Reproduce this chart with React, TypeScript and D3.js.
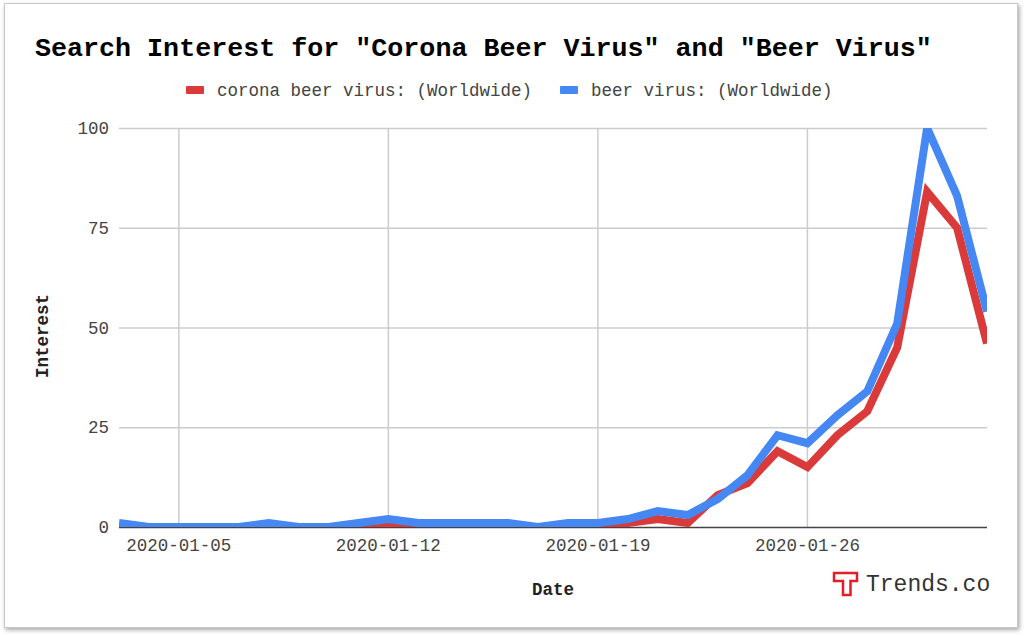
import { useEffect, useRef } from 'react'
import * as d3 from 'd3'

// daily points, 2020-01-03 .. 2020-02-01
const dates = [
  '2020-01-03', '2020-01-04', '2020-01-05', '2020-01-06', '2020-01-07', '2020-01-08',
  '2020-01-09', '2020-01-10', '2020-01-11', '2020-01-12', '2020-01-13', '2020-01-14',
  '2020-01-15', '2020-01-16', '2020-01-17', '2020-01-18', '2020-01-19', '2020-01-20',
  '2020-01-21', '2020-01-22', '2020-01-23', '2020-01-24', '2020-01-25', '2020-01-26',
  '2020-01-27', '2020-01-28', '2020-01-29', '2020-01-30', '2020-01-31', '2020-02-01',
]
const coronaBeerVirus = [
  0, 0, 0, 0, 0, 0, 0, 0, 0, 0, 0, 0, 0, 0, 0, 0, 0, 1, 2, 1, 8, 11, 19, 15, 23, 29, 45, 84, 75, 46,
]
const beerVirus = [
  1, 0, 0, 0, 0, 1, 0, 0, 1, 2, 1, 1, 1, 1, 0, 1, 1, 2, 4, 3, 7, 13, 23, 21, 28, 34, 51, 100, 83, 54,
]
const xTicks = ['2020-01-05', '2020-01-12', '2020-01-19', '2020-01-26']
const yTicks = [0, 25, 50, 75, 100]

const seriesNames = ['corona beer virus: (Worldwide)', 'beer virus: (Worldwide)']
const seriesColors = ['#db3a3a', '#4587f3']

const W = 1024
const H = 636
const plot = { left: 119, right: 987, top: 128, bottom: 527 }
const mono = '"Liberation Mono", "Courier New", monospace'

export default function App() {
  const svgRef = useRef<SVGSVGElement>(null)

  useEffect(() => {
    if (!svgRef.current) return
    const svg = d3.select(svgRef.current)
    svg.selectAll('*').remove()

    const parse = d3.utcParse('%Y-%m-%d')
    const xs = dates.map(d => parse(d) as Date)

    const x = d3
      .scaleUtc()
      .domain([xs[0], xs[xs.length - 1]])
      .range([plot.left, plot.right])
    const y = d3.scaleLinear().domain([0, 100]).range([plot.bottom, plot.top])

    const defs = svg.append('defs')
    const shadow = defs.append('filter').attr('id', 'card-shadow').attr('x', '-5%').attr('y', '-5%').attr('width', '110%').attr('height', '110%')
    shadow.append('feDropShadow').attr('dx', 1.5).attr('dy', 2).attr('stdDeviation', 2).attr('flood-color', '#000').attr('flood-opacity', 0.35)
    defs
      .append('clipPath')
      .attr('id', 'plot-clip')
      .append('rect')
      .attr('x', plot.left)
      .attr('y', plot.top)
      .attr('width', plot.right - plot.left)
      .attr('height', plot.bottom - plot.top)

    // card
    svg.append('rect')
      .attr('x', 4.5).attr('y', 3.5)
      .attr('width', 1013).attr('height', 624)
      .attr('fill', '#fff')
      .attr('stroke', '#c8c8c8')
      .attr('filter', 'url(#card-shadow)')

    // title
    svg.append('text')
      .attr('x', 35).attr('y', 56)
      .attr('font-family', mono).attr('font-weight', 'bold').attr('font-size', 26.7)
      .attr('fill', '#000')
      .text('Search Interest for "Corona Beer Virus" and "Beer Virus"')

    // legend
    const legendX = [186, 560]
    seriesNames.forEach((name, i) => {
      svg.append('rect')
        .attr('x', legendX[i]).attr('y', 86)
        .attr('width', 18).attr('height', 8).attr('rx', 1)
        .attr('fill', seriesColors[i])
      svg.append('text')
        .attr('x', legendX[i] + 31).attr('y', 96)
        .attr('font-family', mono).attr('font-size', 17.5)
        .attr('fill', '#444')
        .text(name)
    })

    // grid
    const grid = svg.append('g')
    grid.selectAll('line.h')
      .data(yTicks.filter(t => t > 0))
      .join('line')
      .attr('x1', plot.left).attr('x2', plot.right)
      .attr('y1', d => y(d) + 0.5).attr('y2', d => y(d) + 0.5)
      .attr('stroke', '#cccccc').attr('stroke-width', 1.5)
    grid.selectAll('line.v')
      .data(xTicks)
      .join('line')
      .attr('x1', d => x(parse(d) as Date)).attr('x2', d => x(parse(d) as Date))
      .attr('y1', plot.top).attr('y2', plot.bottom)
      .attr('stroke', '#cccccc').attr('stroke-width', 1.5)

    // baseline
    svg.append('line')
      .attr('x1', plot.left).attr('x2', plot.right)
      .attr('y1', y(0) + 0.5).attr('y2', y(0) + 0.5)
      .attr('stroke', '#444').attr('stroke-width', 1.5)

    // axis labels
    svg.append('g').selectAll('text')
      .data(yTicks)
      .join('text')
      .attr('x', 109).attr('y', d => y(d))
      .attr('dy', '0.35em')
      .attr('text-anchor', 'end')
      .attr('font-family', mono).attr('font-size', 17.5)
      .attr('fill', '#444')
      .text(d => String(d))

    const fmt = d3.utcFormat('%Y-%m-%d')
    svg.append('g').selectAll('text')
      .data(xTicks)
      .join('text')
      .attr('x', d => x(parse(d) as Date)).attr('y', 551)
      .attr('text-anchor', 'middle')
      .attr('font-family', mono).attr('font-size', 17.5)
      .attr('fill', '#444')
      .text(d => fmt(parse(d) as Date))

    svg.append('text')
      .attr('x', (plot.left + plot.right) / 2).attr('y', 595)
      .attr('text-anchor', 'middle')
      .attr('font-family', mono).attr('font-weight', 'bold').attr('font-size', 17.5)
      .attr('fill', '#222')
      .text('Date')

    svg.append('text')
      .attr('transform', 'translate(48,336) rotate(-90)')
      .attr('text-anchor', 'middle')
      .attr('font-family', mono).attr('font-weight', 'bold').attr('font-size', 17.5)
      .attr('fill', '#222')
      .text('Interest')

    // series
    const line = d3
      .line<number>()
      .x((_, i) => x(xs[i]))
      .y(d => y(d))
    const lines = svg.append('g').attr('clip-path', 'url(#plot-clip)')
    ;[coronaBeerVirus, beerVirus].forEach((values, i) => {
      lines.append('path')
        .datum(values)
        .attr('d', line)
        .attr('fill', 'none')
        .attr('stroke', seriesColors[i])
        .attr('stroke-width', 8)
        .attr('stroke-linejoin', 'miter')
    })

    // watermark
    svg.append('path')
      .attr('d', 'M834,573 H857 V581 H850.5 V595 H843 V581 H834 Z')
      .attr('fill', '#fff')
      .attr('stroke', '#e41e26')
      .attr('stroke-width', 2.5)
    svg.append('text')
      .attr('x', 866).attr('y', 591)
      .attr('font-family', mono).attr('font-size', 23)
      .attr('fill', '#333')
      .text('Trends.co')
  }, [])

  return (
    <div style={{ position: 'absolute', left: 0, top: 0 }}>
      <svg ref={svgRef} width={W} height={H} style={{ display: 'block' }} />
    </div>
  )
}
